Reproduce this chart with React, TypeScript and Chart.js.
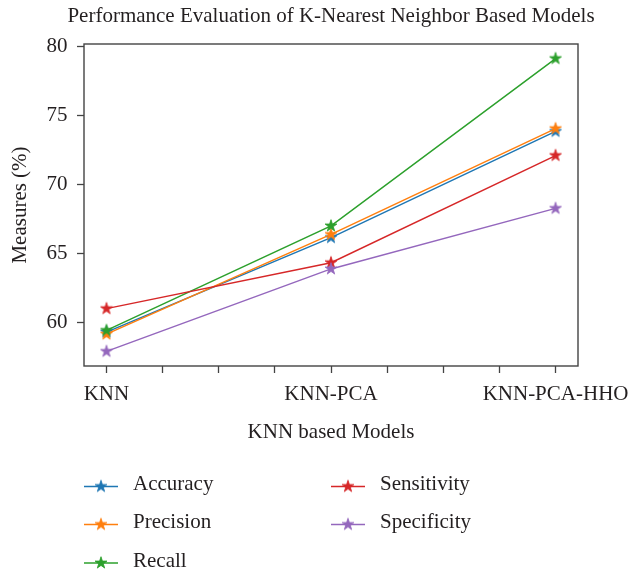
import React, { useEffect, useRef } from "react";
import { Chart, registerables } from "chart.js";

Chart.register(...registerables);

const titleText = "Performance Evaluation of K-Nearest Neighbor Based Models";
const categories = ["KNN", "KNN-PCA", "KNN-PCA-HHO"];
const seriesNames = ["Accuracy", "Precision", "Recall", "Sensitivity", "Specificity"];
const accuracy = [59.3, 66.15, 73.85];
const precision = [59.15, 66.38, 74.05];
const recall = [59.42, 67.0, 79.13];
const sensitivity = [61.0, 64.33, 72.1];
const specificity = [57.9, 63.88, 68.27];
const yTicks = [60, 65, 70, 75, 80];
const xTicks = [0, 0.25, 0.5, 0.75, 1, 1.25, 1.5, 1.75, 2];

const seriesValues = [accuracy, precision, recall, sensitivity, specificity];
const colors = ["#1f77b4", "#ff7f0e", "#2ca02c", "#d62728", "#9467bd"];

const FONT = "'Liberation Serif', 'Times New Roman', serif";
const TEXT = "#231f20";
const AXIS = "#444444";

function makeStar(color: string, R = 6.3): HTMLCanvasElement {
  const c = document.createElement("canvas");
  c.width = 16;
  c.height = 16;
  const ctx = c.getContext("2d")!;
  const cx = 8, cy = 8;
  const r = R * 0.382;
  ctx.beginPath();
  for (let i = 0; i < 10; i++) {
    const rad = i % 2 === 0 ? R : r;
    const a = -Math.PI / 2 + (i * Math.PI) / 5;
    const x = cx + rad * Math.cos(a);
    const y = cy + rad * Math.sin(a);
    if (i === 0) ctx.moveTo(x, y);
    else ctx.lineTo(x, y);
  }
  ctx.closePath();
  ctx.fillStyle = color;
  ctx.fill();
  ctx.lineWidth = 0.8;
  ctx.strokeStyle = color;
  ctx.stroke();
  return c;
}

const framePlugin = {
  id: "frame",
  afterDatasetsDraw(chart: any) {
    const { ctx, chartArea } = chart;
    ctx.save();
    ctx.strokeStyle = AXIS;
    ctx.lineWidth = 1.4;
    ctx.strokeRect(chartArea.left, chartArea.top, chartArea.right - chartArea.left, chartArea.bottom - chartArea.top);
    ctx.restore();
  },
};

const titlePlugin = {
  id: "centeredTitle",
  afterDraw(chart: any, _args: any, opts: any) {
    const { ctx, chartArea } = chart;
    ctx.save();
    ctx.fillStyle = TEXT;
    ctx.font = `21px ${FONT}`;
    ctx.textAlign = "center";
    ctx.textBaseline = "middle";
    ctx.fillText(opts.text, (chartArea.left + chartArea.right) / 2, opts.y);
    ctx.restore();
  },
};

const customLegend = {
  id: "customLegend",
  afterDraw(chart: any, _args: any, opts: any) {
    const { ctx } = chart;
    const cols = opts.cols as number[];
    const rows = opts.rows as number[];
    chart.data.datasets.forEach((ds: any, i: number) => {
      const col = i < 3 ? 0 : 1;
      const row = i < 3 ? i : i - 3;
      const x0 = cols[col];
      const y = rows[row];
      ctx.save();
      ctx.strokeStyle = ds.borderColor;
      ctx.lineWidth = 1.5;
      ctx.beginPath();
      ctx.moveTo(x0, y);
      ctx.lineTo(x0 + 34, y);
      ctx.stroke();
      const img = ds.pointStyle as HTMLCanvasElement;
      ctx.drawImage(img, x0 + 17 - img.width / 2, y - img.height / 2);
      ctx.fillStyle = TEXT;
      ctx.font = `21px ${FONT}`;
      ctx.textBaseline = "middle";
      ctx.textAlign = "left";
      ctx.fillText(ds.label, x0 + 49, y - 2);
      ctx.restore();
    });
  },
};

export default function App() {
  const ref = useRef<HTMLCanvasElement>(null);
  useEffect(() => {
    const canvas = ref.current!;
    const datasets = seriesNames.map((name, i) => ({
      label: name,
      data: seriesValues[i].map((v, j) => ({ x: j, y: v })),
      borderColor: colors[i],
      backgroundColor: colors[i],
      borderWidth: 1.5,
      pointStyle: makeStar(colors[i]),
      pointRadius: 6,
      tension: 0,
      fill: false,
      order: seriesNames.length - i,
    }));
    const chart = new Chart(canvas, {
      type: "line",
      data: { datasets },
      plugins: [framePlugin, titlePlugin, customLegend],
      options: {
        animation: false,
        responsive: false,
        devicePixelRatio: 1,
        events: [],
        layout: { padding: { left: 0, right: 54, top: 44, bottom: 110 } },
        plugins: {
          legend: { display: false },
          tooltip: { enabled: false },
          title: { display: false },
          centeredTitle: { text: titleText, y: 16.7 },
          customLegend: { cols: [84, 331], rows: [486.5, 524.5, 563] },
        } as any,
        scales: {
          x: {
            type: "linear",
            min: -0.1,
            max: 2.1,
            afterBuildTicks: (s: any) => {
              s.ticks = xTicks.map((v) => ({ value: v }));
            },
            afterFit: (s: any) => {
              s.height = 97;
              s.paddingLeft = 0;
              s.paddingRight = 0;
            },
            border: { display: false },
            grid: { display: true, drawOnChartArea: false, drawTicks: true, tickLength: 7, tickColor: AXIS, tickWidth: 1.3 },
            ticks: {
              padding: 8.4,
              color: TEXT,
              maxRotation: 0,
              autoSkip: false,
              font: { family: FONT, size: 21 },
              callback: (v: any) => (Number.isInteger(v) ? categories[v] : ""),
            },
            title: {
              display: true,
              text: "KNN based Models",
              color: TEXT,
              font: { family: FONT, size: 21 },
              padding: { top: 0, bottom: 18.4 },
            },
          },
          y: {
            type: "linear",
            min: 56.84,
            max: 80.19,
            afterBuildTicks: (s: any) => {
              s.ticks = yTicks.map((v) => ({ value: v }));
            },
            afterFit: (s: any) => {
              s.width = 84;
              s.paddingTop = 0;
              s.paddingBottom = 0;
            },
            border: { display: false },
            grid: { display: true, drawOnChartArea: false, drawTicks: true, tickLength: 7, tickColor: AXIS, tickWidth: 1.3 },
            ticks: {
              padding: 9.5,
              color: TEXT,
              font: { family: FONT, size: 21 },
            },
            title: {
              display: true,
              text: "Measures (%)",
              color: TEXT,
              font: { family: FONT, size: 21 },
              padding: { top: 7.4, bottom: 0 },
            },
          },
        },
      } as any,
    });
    return () => chart.destroy();
  }, []);
  return (
    <div style={{ position: "fixed", left: 0, top: 0, width: 632, height: 573, background: "#fff" }}>
      <canvas ref={ref} width={632} height={573} />
    </div>
  );
}
